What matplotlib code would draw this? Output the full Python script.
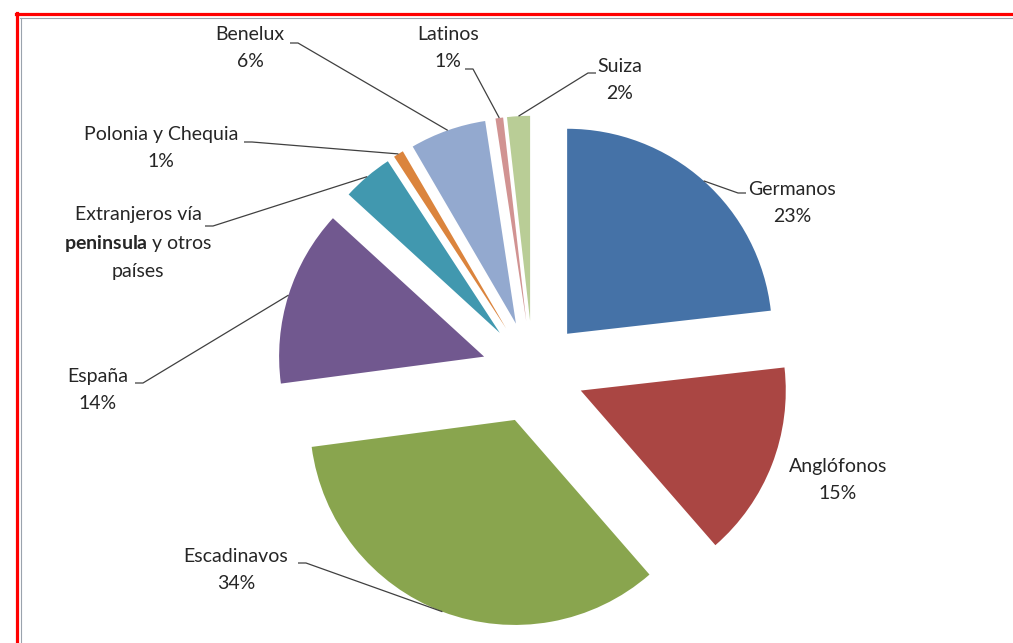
import math
import matplotlib.pyplot as plt
from matplotlib.lines import Line2D

W, H = 1013, 643

plt.rcParams["font.family"] = ["Lato", "DejaVu Sans"]
plt.rcParams["mathtext.fontset"] = "custom"
plt.rcParams["mathtext.rm"] = "Lato"
plt.rcParams["mathtext.bf"] = "Lato:bold"

categories = ["Germanos", "Anglófonos", "Escadinavos", "España",
              "Extranjeros", "Polonia y Chequia", "Benelux", "Latinos", "Suiza"]
shares = [23.2, 15.4, 34.3, 13.9, 4.0, 0.8, 6.0, 0.6, 1.8]
colors = ["#4572A7", "#AA4643", "#89A54E", "#71588F", "#4198AF",
          "#DB843D", "#93A9CF", "#D19392", "#B9CD96"]

labels = [f"{c}\n{s:.0f}%" for c, s in zip(categories, shares)]
# this one has no percentage, and "peninsula" is bold
labels[4] = "Extranjeros vía\n$\\mathbf{peninsula}$ y otros\npaíses"

# label layout in image pixels: text centre, start of leader stub, stub direction
layout = [
    ((792, 203), (746, 193), -1),
    ((838, 480), None, 0),
    ((236, 570), (298, 563), 1),
    ((98, 390), (135, 383), 1),
    ((138, 243), (205, 226), 1),
    ((161, 148), (244, 142), 1),
    ((250, 48), (290, 43), 1),
    ((448, 48), (465, 69), 1),
    ((620, 80), (596, 73), -1),
]

fig = plt.figure(figsize=(W / 100, H / 100), dpi=100)
ax = fig.add_axes([0, 0, 1, 1])

radius = 205
wedges, _ = ax.pie(shares, colors=colors, startangle=90, counterclock=False,
                   center=(533, H - 372), radius=radius,
                   explode=[0.25 * radius] * len(shares),
                   wedgeprops=dict(linewidth=0))
ax.set_xlim(0, W)
ax.set_ylim(0, H)
ax.set_aspect("equal")
ax.axis("off")

for w, lab, (txt, stub, d) in zip(wedges, labels, layout):
    ax.text(txt[0], H - txt[1], lab, ha="center", va="center",
            fontsize=14, color="#262626", linespacing=1.65)
    if stub is None:
        continue
    th = math.radians((w.theta1 + w.theta2) / 2)
    axx = w.center[0] + w.r * math.cos(th)
    axy = w.center[1] + w.r * math.sin(th)
    ax.plot([stub[0], stub[0] + 8 * d, axx], [H - stub[1], H - stub[1], axy],
            color="#404040", lw=0.9, solid_capstyle="butt")

# red frame (top and left) with the thin grey chart border inside
fig.add_artist(Line2D([16 / W, 1], [1 - 14 / H] * 2, color="red", lw=2.3))
fig.add_artist(Line2D([17 / W] * 2, [0, 1 - 13 / H], color="red", lw=2.3))
fig.add_artist(Line2D([20 / W, 1], [1 - 17.5 / H] * 2, color="#9aa3ad", lw=0.8))
fig.add_artist(Line2D([20.5 / W] * 2, [0, 1 - 17.5 / H], color="#9aa3ad", lw=0.8))

fig.savefig("out.png", dpi=100)
